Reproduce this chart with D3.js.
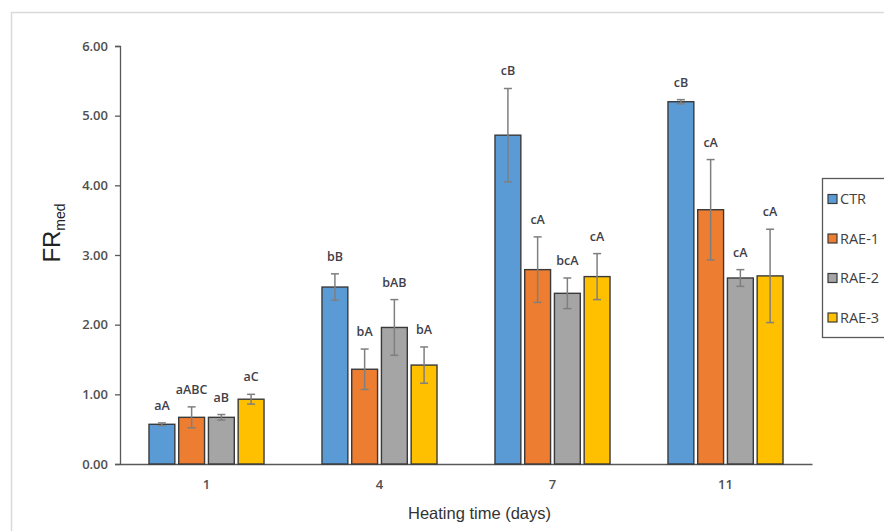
<!DOCTYPE html>
<html>
<head>
<meta charset="utf-8">
<script src="https://cdn.jsdelivr.net/npm/d3@7"></script>
<style>
  html, body { margin: 0; padding: 0; background: #fff; }
  svg { display: block; }
</style>
</head>
<body>
<script>
// ---- Data ----
const days = ["1", "4", "7", "11"];
const seriesNames = ["CTR", "RAE-1", "RAE-2", "RAE-3"];
const ctrValues  = [0.57, 2.54, 4.72, 5.20];
const rae1Values = [0.67, 1.36, 2.79, 3.65];
const rae2Values = [0.67, 1.96, 2.45, 2.67];
const rae3Values = [0.93, 1.42, 2.69, 2.70];
const ctrErrors  = [0.02, 0.19, 0.67, 0.03];
const rae1Errors = [0.15, 0.29, 0.47, 0.72];
const rae2Errors = [0.04, 0.40, 0.22, 0.12];
const rae3Errors = [0.07, 0.26, 0.33, 0.67];
const ctrLetters  = ["aA", "bB", "cB", "cB"];
const rae1Letters = ["aABC", "bA", "cA", "cA"];
const rae2Letters = ["aB", "bAB", "bcA", "cA"];
const rae3Letters = ["aC", "bA", "cA", "cA"];
const yTicks = [0, 1, 2, 3, 4, 5, 6];

const colors = ["#5B9BD5", "#ED7D31", "#A5A5A5", "#FFC000"];
const valueSets = [ctrValues, rae1Values, rae2Values, rae3Values];
const errorSets = [ctrErrors, rae1Errors, rae2Errors, rae3Errors];
const letterSets = [ctrLetters, rae1Letters, rae2Letters, rae3Letters];

const rows = [];
days.forEach((d, i) => {
  seriesNames.forEach((s, j) => {
    rows.push({ day: d, series: s, value: valueSets[j][i], err: errorSets[j][i], letter: letterSets[j][i], color: colors[j] });
  });
});

// ---- Layout ----
const W = 884, H = 531;
const svg = d3.select("body").append("svg").attr("width", W).attr("height", H);

// outer frame
svg.append("rect").attr("x", 11.5).attr("y", 12.5).attr("width", W).attr("height", H)
  .attr("fill", "none").attr("stroke", "#d9d9d9").attr("stroke-width", 1.5);

const x0 = d3.scaleBand().domain(days).range([120, 812]).paddingInner(0.335).paddingOuter(0.1675);
const x1 = d3.scaleBand().domain(seriesNames).range([0, x0.bandwidth()]).paddingInner(0.13);
const y = d3.scaleLinear().domain([0, 6]).range([464, 46]);

const tickFont = "'Open Sans', sans-serif";
const tickColor = "#4f4f4f";

// y axis
const yAxis = svg.append("g").attr("transform", "translate(120,0)")
  .call(d3.axisLeft(y).tickValues(yTicks).tickFormat(d3.format(".2f")).tickSize(5).tickPadding(7));
yAxis.select(".domain").attr("stroke", "#595959").attr("stroke-width", 1.3);
yAxis.selectAll(".tick line").attr("stroke", "#595959").attr("stroke-width", 1.3);
yAxis.selectAll(".tick text").attr("font-family", tickFont).attr("font-size", 13)
  .attr("font-weight", 600).attr("fill", tickColor);

// x axis
const xAxis = svg.append("g").attr("transform", "translate(0,464)")
  .call(d3.axisBottom(x0).tickSize(0).tickPadding(16));
xAxis.select(".domain").attr("stroke", "#595959").attr("stroke-width", 1.3);
xAxis.selectAll(".tick text").attr("font-family", tickFont).attr("font-size", 13)
  .attr("font-weight", 600).attr("fill", tickColor);

// bars
const barG = svg.append("g");
barG.selectAll("rect").data(rows).enter().append("rect")
  .attr("x", d => x0(d.day) + x1(d.series))
  .attr("y", d => y(d.value))
  .attr("width", x1.bandwidth())
  .attr("height", d => y(0) - y(d.value))
  .attr("fill", d => d.color)
  .attr("stroke", "#3a3a3a").attr("stroke-width", 1.4);

// error bars
const errG = svg.append("g").attr("stroke", "#7f7f7f").attr("stroke-width", 1.5);
rows.forEach(d => {
  const cx = x0(d.day) + x1(d.series) + x1.bandwidth() / 2;
  const top = y(d.value + d.err), bot = y(d.value - d.err);
  errG.append("line").attr("x1", cx).attr("x2", cx).attr("y1", top).attr("y2", bot);
  errG.append("line").attr("x1", cx - 4).attr("x2", cx + 4).attr("y1", top).attr("y2", top);
  errG.append("line").attr("x1", cx - 4).attr("x2", cx + 4).attr("y1", bot).attr("y2", bot);
});

// letters
svg.append("g").selectAll("text").data(rows).enter().append("text")
  .attr("x", d => x0(d.day) + x1(d.series) + x1.bandwidth() / 2)
  .attr("y", d => y(d.value + d.err) - 13)
  .attr("text-anchor", "middle")
  .attr("font-family", tickFont).attr("font-size", 12.5).attr("font-weight", 600)
  .attr("fill", "#3f3f4a")
  .text(d => d.letter);

// y title
const yt = svg.append("text").attr("transform", "translate(60,233) rotate(-90)")
  .attr("text-anchor", "middle").attr("font-family", "'Liberation Sans', Arial, sans-serif")
  .attr("fill", "#222");
yt.append("tspan").attr("font-size", 24).text("FR");
yt.append("tspan").attr("font-size", 14).attr("dy", 5).text("med");

// x title
svg.append("text").attr("x", 479.5).attr("y", 519).attr("text-anchor", "middle")
  .attr("font-family", "'Liberation Sans', Arial, sans-serif").attr("font-size", 16.5)
  .attr("fill", "#333").text("Heating time (days)");

// legend
const lg = svg.append("g");
lg.append("rect").attr("x", 822.5).attr("y", 178.5).attr("width", 80).attr("height", 159)
  .attr("fill", "#fff").attr("stroke", "#595959").attr("stroke-width", 1.3);
seriesNames.forEach((s, j) => {
  const cy = 199 + j * 39.5;
  lg.append("rect").attr("x", 828).attr("y", cy - 4.5).attr("width", 9).attr("height", 9)
    .attr("fill", colors[j]).attr("stroke", "#3a3a3a").attr("stroke-width", 1.2);
  lg.append("text").attr("x", 840).attr("y", cy + 5).attr("font-family", tickFont)
    .attr("font-size", 14.5).attr("fill", "#404040").text(s);
});
</script>
</body>
</html>
